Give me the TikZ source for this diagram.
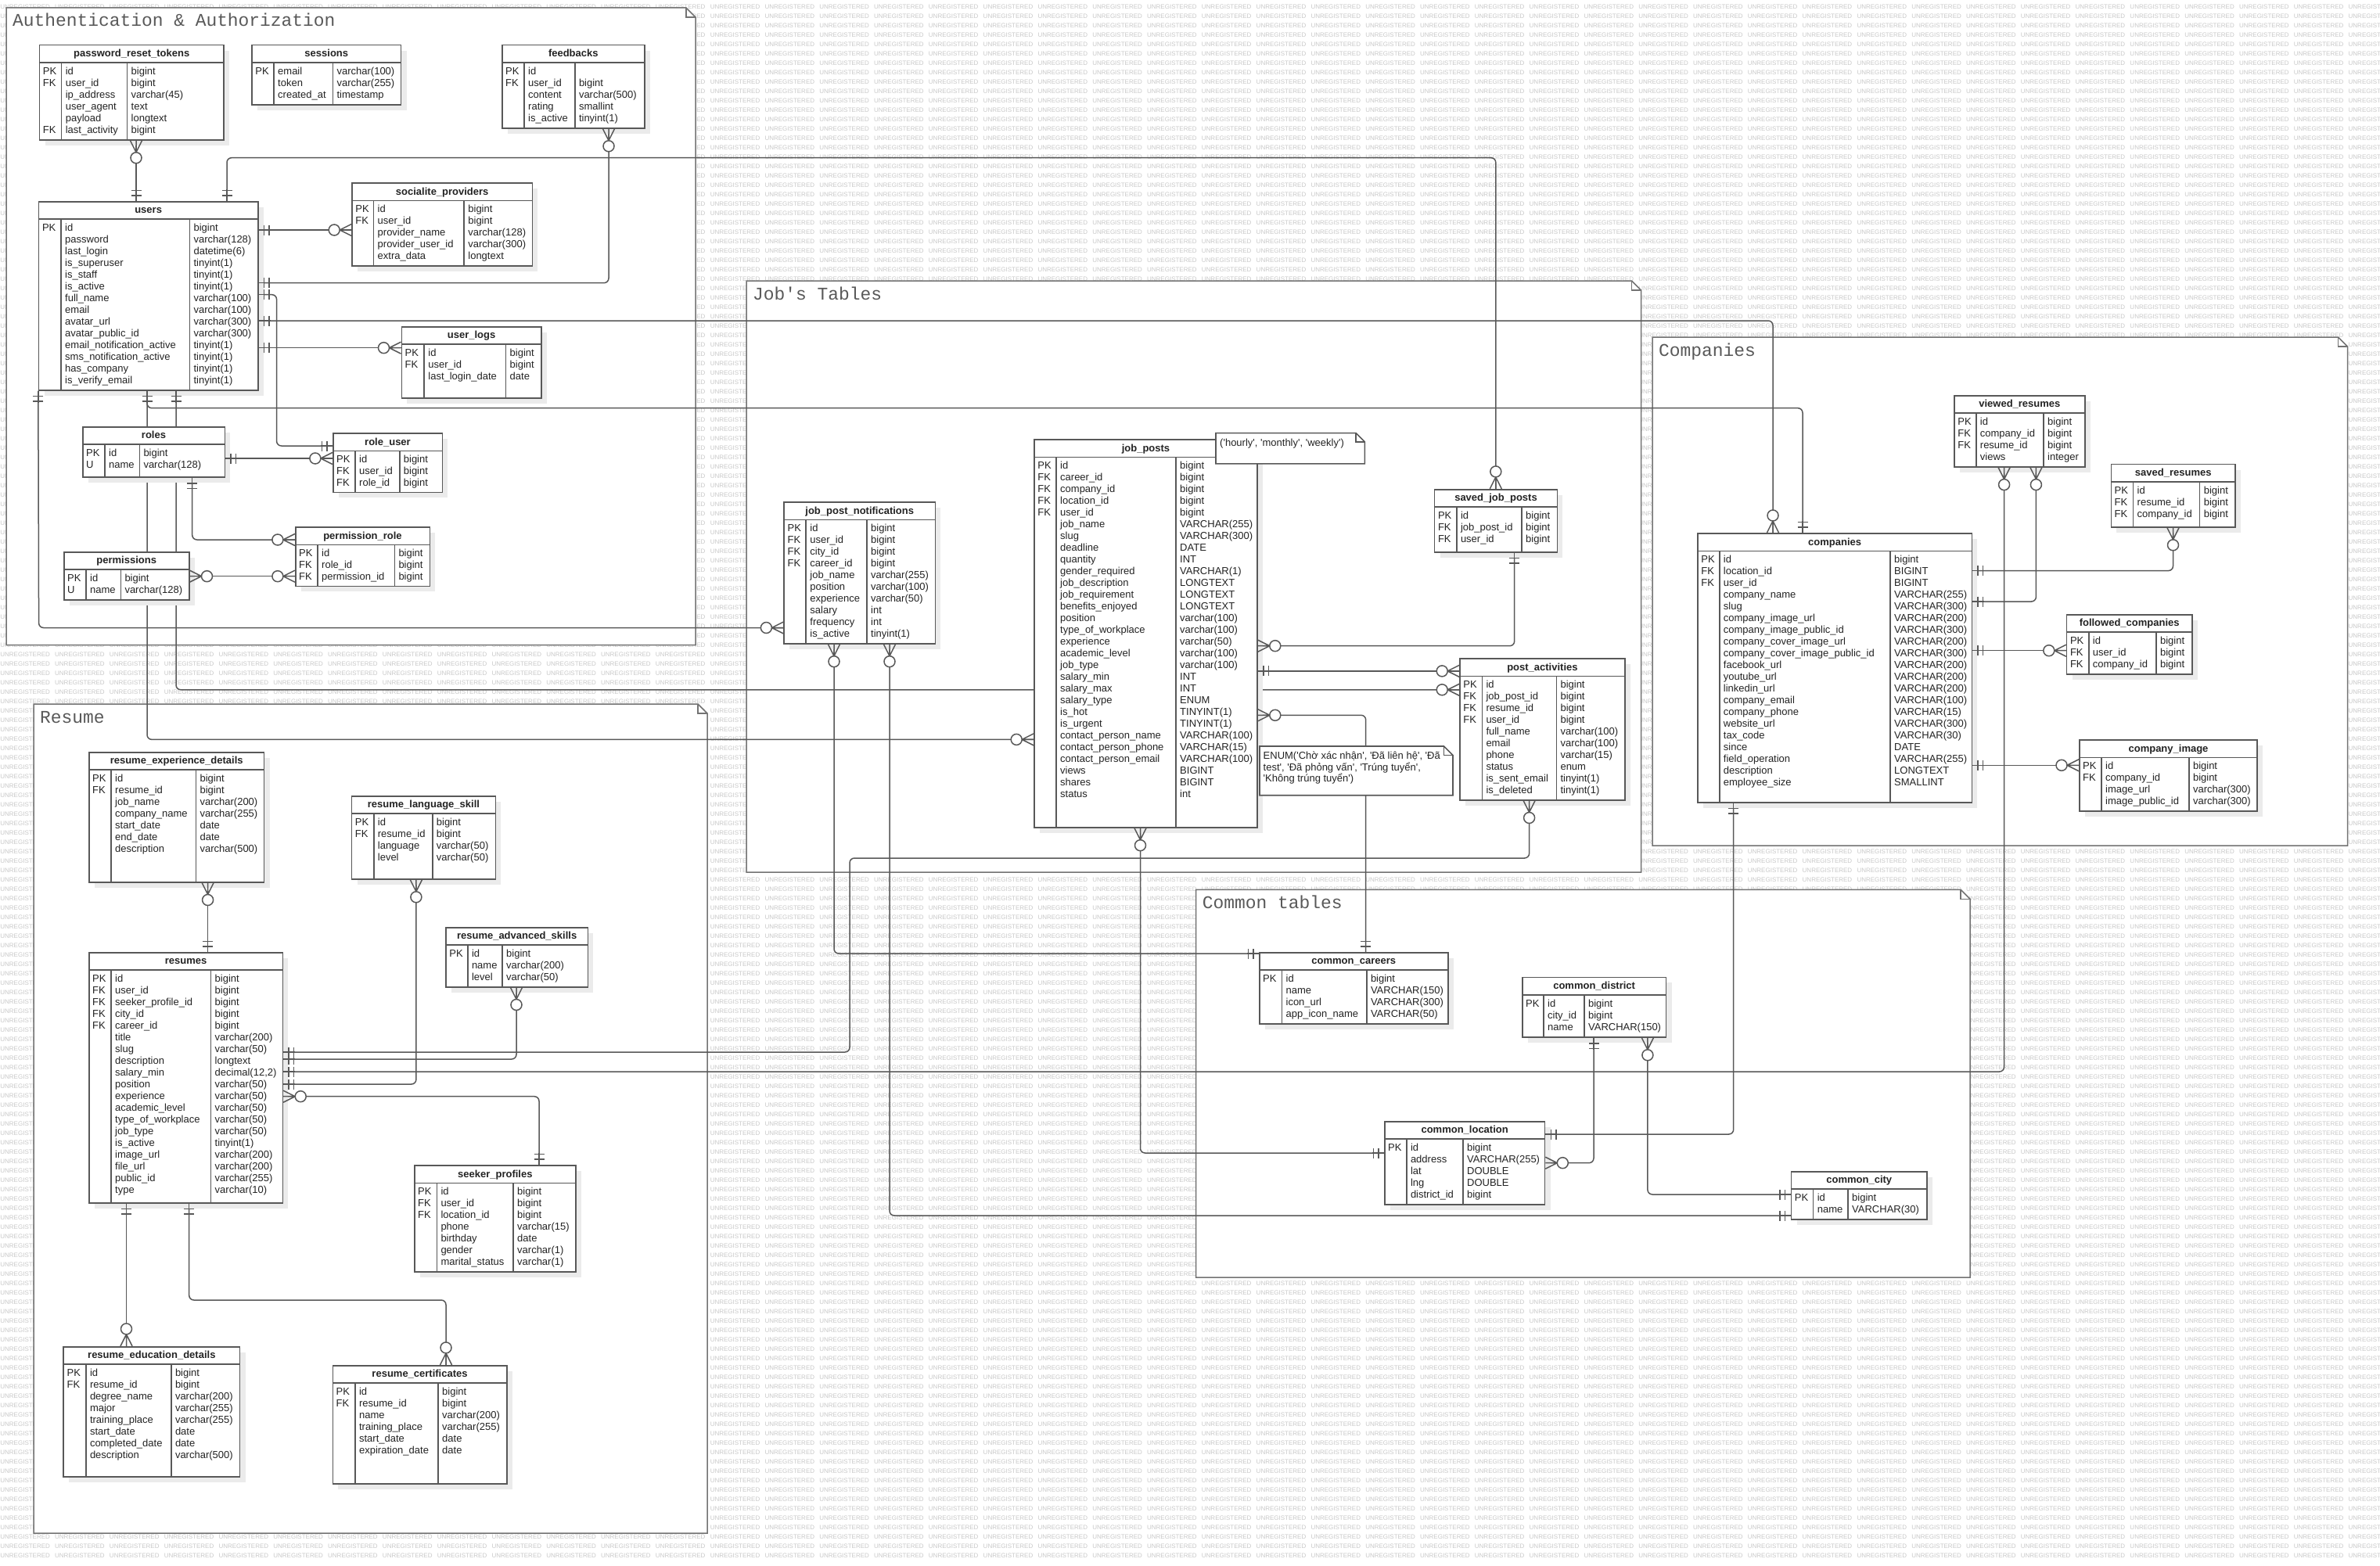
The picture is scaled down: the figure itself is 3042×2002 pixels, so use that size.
\documentclass[tikz,border=0pt]{standalone}
\usepackage{fontspec}
\setmainfont{Liberation Sans}
\newfontfamily\framefont{Liberation Mono}
\usetikzlibrary{calc,fit}
\pgfdeclarelayer{bg}
\pgfdeclarelayer{wires}
\pgfsetlayers{bg,wires,main}

\definecolor{erGray}{RGB}{88,88,88}
\definecolor{erShade}{RGB}{235,235,235}
\definecolor{erInk}{RGB}{35,35,35}
\definecolor{frameGray}{RGB}{115,115,115}
\definecolor{wmGray}{RGB}{200,200,200}

\ExplSyntaxOn
\cs_new:Npn \wmrepeat #1#2 { \prg_replicate:nn {#1} {#2} }
\ExplSyntaxOff
\newcommand\wmword{\makebox[69.8pt][l]{UNREGISTERED}}
\newcommand\q{\textquotesingle}

\tikzset{
  erbody/.style={draw=erGray, line width=1.6pt, fill=white, inner sep=0pt},
  ersep/.style={draw=erGray, line width=1.6pt},
  erconn/.style={draw=erGray, line width=1.5pt},
  ertext/.style={font=\fontsize{13}{15}\selectfont, text=erInk, align=left, inner sep=0pt},
  erhead/.style={font=\bfseries\fontsize{13}{15}\selectfont, text=erInk, inner sep=0pt},
  frameline/.style={draw=frameGray, line width=1.5pt},
  frametitle/.style={font=\framefont\fontsize{22.9}{26}\selectfont, text=black!65, inner sep=0pt},
  notetext/.style={font=\fontsize{13}{12.8}\selectfont, text=erInk, align=left, inner sep=0pt},
  wmark/.style={font=\fontsize{8}{8}\selectfont, text=wmGray, inner sep=0pt},
  erone/.pic={\draw[erconn] (0,0) -- (15,0) (7,-6.5) -- (7,6.5) (13.5,-6.5) -- (13.5,6.5);},
  ermany/.pic={\draw[erconn] (0,-7.5) -- (15,0) -- (0,7.5) (0,0) -- (15,0);
               \draw[erconn, fill=white] (22,0) circle (7pt);}
}

% table box: name, x1, y1, x2, y2, title
\newcommand\erbox[6]{%
  \fill[erShade] (#2+7,#3+7) rectangle (#4+7,#5+7);
  \node[erbody, fit={(#2,#3) (#4,#5)}] (#1) {};
  \node[erhead, anchor=base] (#1h) at ($(#1.north)+(0,16)$) {#6};
  \draw[ersep] ($(#1.north west)+(0,23.3)$) -- ($(#1.north east)+(0,23.3)$);
}
% columns: name, key divider x, type divider x, keys, fields, types
\newcommand\ercols[6]{%
  \draw[ersep] ($(#1.north -| #2,0)+(0,23.3)$) -- (#1.south -| #2,0);
  \draw[ersep] ($(#1.north -| #3,0)+(0,23.3)$) -- (#1.south -| #3,0);
  \node[ertext, anchor=north west] (#1k) at ($(#1.north west)+(5,27.8)$) {\strut #4};
  \node[ertext, anchor=north west] (#1n) at ($(#1.north -| #2,0)+(5,27.8)$) {\strut #5};
  \node[ertext, anchor=north west] (#1t) at ($(#1.north -| #3,0)+(5,27.8)$) {\strut #6};
}
% package frame: name, x1, y1, x2, y2, title
\newcommand\erframe[6]{%
  \draw[frameline, fill=white] (#2,#3) -- (#4-12,#3) -- (#4,#3+12) -- (#4,#5) -- (#2,#5) -- cycle;
  \draw[frameline] (#4-12,#3) -- (#4-12,#3+12) -- (#4,#3+12);
  \node[frametitle, anchor=base west] (#1) at (#2+8,#3+24) {#6};
}

\begin{document}
\begin{tikzpicture}[x=1pt, y=-1pt]
\useasboundingbox (0,0) rectangle (3042,2002);

\begin{pgfonlayer}{bg}
  \begin{scope}
    \clip (0,0) rectangle (3042,2002);
    \foreach \k in {0,...,165}
      \node[wmark, anchor=west] (wm\k) at (0.2,9+12*\k) {\wmrepeat{44}{\wmword}};
  \end{scope}
  \erframe{authframe}{8}{10}{889}{824.5}{Authentication \& Authorization}
  \erframe{jobframe}{954}{359}{2097.5}{1115}{Job\q s Tables}
  \erframe{compframe}{2112}{431}{3000.5}{1081}{Companies}
  \erframe{resframe}{43}{900}{904}{1960}{Resume}
  \erframe{commonframe}{1528.7}{1137.3}{2518}{1633}{Common tables}
\end{pgfonlayer}

% authentication & authorization
\erbox{prt}{50.5}{57.7}{286}{179}{password\_reset\_tokens}
\ercols{prt}{78.6}{162.5}{PK\\FK\\\strut\\\strut\\\strut\\FK}{id\\user\_id\\ip\_address\\user\_agent\\payload\\last\_activity}{bigint\\bigint\\varchar(45)\\text\\longtext\\bigint}
\erbox{sessions}{322}{57.7}{512.6}{134}{sessions}
\ercols{sessions}{350}{425.4}{PK}{email\\token\\created\_at}{varchar(100)\\varchar(255)\\timestamp}
\erbox{feedbacks}{641.8}{57.7}{823.8}{164}{feedbacks}
\ercols{feedbacks}{670}{734.8}{PK\\FK}{id\\user\_id\\content\\rating\\is\_active}{\\bigint\\varchar(500)\\smallint\\tinyint(1)}
\erbox{users}{49.6}{257.7}{329.7}{498.7}{users}
\ercols{users}{78}{242.4}{PK}{id\\password\\last\_login\\is\_superuser\\is\_staff\\is\_active\\full\_name\\email\\avatar\_url\\avatar\_public\_id\\email\_notification\_active\\sms\_notification\_active\\has\_company\\is\_verify\_email}{bigint\\varchar(128)\\datetime(6)\\tinyint(1)\\tinyint(1)\\tinyint(1)\\varchar(100)\\varchar(100)\\varchar(300)\\varchar(300)\\tinyint(1)\\tinyint(1)\\tinyint(1)\\tinyint(1)}
\erbox{socialite}{450}{234}{680.4}{340}{socialite\_providers}
\ercols{socialite}{477.5}{593.2}{PK\\FK}{id\\user\_id\\provider\_name\\provider\_user\_id\\extra\_data}{bigint\\bigint\\varchar(128)\\varchar(300)\\longtext}
\erbox{userlogs}{513.3}{417.7}{692}{509}{user\_logs}
\ercols{userlogs}{542.2}{646.5}{PK\\FK}{id\\user\_id\\last\_login\_date}{bigint\\bigint\\date}
\erbox{roles}{105.7}{545.7}{287.3}{610}{roles}
\ercols{roles}{134}{178.3}{PK\\U}{id\\name}{bigint\\varchar(128)}
\erbox{roleuser}{425.7}{554}{565.3}{629.3}{role\_user}
\ercols{roleuser}{454}{510.7}{PK\\FK\\FK}{id\\user\_id\\role\_id}{bigint\\bigint\\bigint}
\erbox{permissions}{81.7}{705.7}{241.7}{766.7}{permissions}
\ercols{permissions}{110}{154.3}{PK\\U}{id\\name}{bigint\\varchar(128)}
\erbox{permrole}{377.7}{674}{549.3}{749.3}{permission\_role}
\ercols{permrole}{406}{504.3}{PK\\FK\\FK}{id\\role\_id\\permission\_id}{bigint\\bigint\\bigint}

% job tables
\erbox{jpn}{1002.2}{641.8}{1195.3}{822.9}{job\_post\_notifications}
\ercols{jpn}{1030.2}{1108}{PK\\FK\\FK\\FK}{id\\user\_id\\city\_id\\career\_id\\job\_name\\position\\experience\\salary\\frequency\\is\_active}{bigint\\bigint\\bigint\\bigint\\varchar(255)\\varchar(100)\\varchar(50)\\int\\int\\tinyint(1)}
\erbox{jobposts}{1322}{562}{1607}{1057.9}{job\_posts}
\ercols{jobposts}{1350}{1503}{PK\\FK\\FK\\FK\\FK}{id\\career\_id\\company\_id\\location\_id\\user\_id\\job\_name\\slug\\deadline\\quantity\\gender\_required\\job\_description\\job\_requirement\\benefits\_enjoyed\\position\\type\_of\_workplace\\experience\\academic\_level\\job\_type\\salary\_min\\salary\_max\\salary\_type\\is\_hot\\is\_urgent\\contact\_person\_name\\contact\_person\_phone\\contact\_person\_email\\views\\shares\\status}{bigint\\bigint\\bigint\\bigint\\bigint\\VARCHAR(255)\\VARCHAR(300)\\DATE\\INT\\VARCHAR(1)\\LONGTEXT\\LONGTEXT\\LONGTEXT\\varchar(100)\\varchar(100)\\varchar(50)\\varchar(100)\\varchar(100)\\INT\\INT\\ENUM\\TINYINT(1)\\TINYINT(1)\\VARCHAR(100)\\VARCHAR(15)\\VARCHAR(100)\\BIGINT\\BIGINT\\int}
\erbox{sjp}{1833.6}{625.7}{1990.4}{705.7}{saved\_job\_posts}
\ercols{sjp}{1861.8}{1945}{PK\\FK\\FK}{id\\job\_post\_id\\user\_id}{bigint\\bigint\\bigint}
\erbox{postact}{1866}{842}{2076.8}{1022.7}{post\_activities}
\ercols{postact}{1894.3}{1989.3}{PK\\FK\\FK\\FK}{id\\job\_post\_id\\resume\_id\\user\_id\\full\_name\\email\\phone\\status\\is\_sent\_email\\is\_deleted}{bigint\\bigint\\bigint\\bigint\\varchar(100)\\varchar(100)\\varchar(15)\\enum\\tinyint(1)\\tinyint(1)}

% notes
\draw[ersep, fill=white] (1554,553.6) -- (1733,553.6) -- (1744.4,565) -- (1744.4,592.9) -- (1554,592.9) -- cycle;
\draw[ersep] (1733,553.6) -- (1733,565) -- (1744.4,565);
\node[notetext, anchor=north west] (hourlynote) at (1559,561) {\strut(\q hourly\q, \q monthly\q, \q weekly\q)};
\draw[ersep, fill=white] (1610,954) -- (1845.6,954) -- (1857,965.4) -- (1857,1016.7) -- (1610,1016.7) -- cycle;
\draw[ersep] (1845.6,954) -- (1845.6,965.4) -- (1857,965.4);
\node[notetext, anchor=north west] (enumnote) at (1614.5,960.5) {\strut ENUM(\q Chờ xác nhận\q, \q Đã liên hệ\q, \q Đã\\test\q, \q Đã phỏng vấn\q, \q Trúng tuyển\q,\\\q Không trúng tuyển\q)};

% companies
\erbox{companies}{2170}{681.8}{2520.3}{1025.7}{companies}
\ercols{companies}{2197.7}{2416}{PK\\FK\\FK}{id\\location\_id\\user\_id\\company\_name\\slug\\company\_image\_url\\company\_image\_public\_id\\company\_cover\_image\_url\\company\_cover\_image\_public\_id\\facebook\_url\\youtube\_url\\linkedin\_url\\company\_email\\company\_phone\\website\_url\\tax\_code\\since\\field\_operation\\description\\employee\_size}{bigint\\BIGINT\\BIGINT\\VARCHAR(255)\\VARCHAR(300)\\VARCHAR(200)\\VARCHAR(300)\\VARCHAR(200)\\VARCHAR(300)\\VARCHAR(200)\\VARCHAR(200)\\VARCHAR(200)\\VARCHAR(100)\\VARCHAR(15)\\VARCHAR(300)\\VARCHAR(30)\\DATE\\VARCHAR(255)\\LONGTEXT\\SMALLINT}
\erbox{viewed}{2498}{505.7}{2664.7}{596.8}{viewed\_resumes}
\ercols{viewed}{2525.7}{2612}{PK\\FK\\FK}{id\\company\_id\\resume\_id\\views}{bigint\\bigint\\bigint\\integer}
\erbox{savedres}{2698.3}{593.6}{2857.2}{674}{saved\_resumes}
\ercols{savedres}{2726.5}{2811.6}{PK\\FK\\FK}{id\\resume\_id\\company\_id}{bigint\\bigint\\bigint}
\erbox{followed}{2641.6}{785.7}{2801.7}{861.7}{followed\_companies}
\ercols{followed}{2669.7}{2755.9}{PK\\FK\\FK}{id\\user\_id\\company\_id}{bigint\\bigint\\bigint}
\erbox{compimage}{2657.8}{946}{2885.2}{1036.7}{company\_image}
\ercols{compimage}{2685.9}{2797.8}{PK\\FK}{id\\company\_id\\image\_url\\image\_public\_id}{bigint\\bigint\\varchar(300)\\varchar(300)}

% common tables
\erbox{careers}{1609.7}{1217.7}{1850.8}{1309}{common\_careers}
\ercols{careers}{1638.4}{1746.8}{PK}{id\\name\\icon\_url\\app\_icon\_name}{bigint\\VARCHAR(150)\\VARCHAR(300)\\VARCHAR(50)}
\erbox{district}{1945.8}{1249.3}{2129.5}{1326}{common\_district}
\ercols{district}{1973}{2024.9}{PK}{id\\city\_id\\name}{bigint\\bigint\\VARCHAR(150)}
\erbox{location}{1769.8}{1433.7}{1974.5}{1540}{common\_location}
\ercols{location}{1797.8}{1869.9}{PK}{id\\address\\lat\\lng\\district\_id}{bigint\\VARCHAR(255)\\DOUBLE\\DOUBLE\\bigint}
\erbox{city}{2289.5}{1497.7}{2463}{1559}{common\_city}
\ercols{city}{2317.6}{2362}{PK}{id\\name}{bigint\\VARCHAR(30)}

% resume
\erbox{expdetails}{113.8}{961.7}{337.6}{1127.7}{resume\_experience\_details}
\ercols{expdetails}{142}{250.4}{PK\\FK}{id\\resume\_id\\job\_name\\company\_name\\start\_date\\end\_date\\description}{bigint\\bigint\\varchar(200)\\varchar(255)\\date\\date\\varchar(500)}
\erbox{resumes}{113.8}{1217.7}{361.4}{1537.7}{resumes}
\ercols{resumes}{142}{269.5}{PK\\FK\\FK\\FK\\FK}{id\\user\_id\\seeker\_profile\_id\\city\_id\\career\_id\\title\\slug\\description\\salary\_min\\position\\experience\\academic\_level\\type\_of\_workplace\\job\_type\\is\_active\\image\_url\\file\_url\\public\_id\\type}{bigint\\bigint\\bigint\\bigint\\bigint\\varchar(200)\\varchar(50)\\longtext\\decimal(12,2)\\varchar(50)\\varchar(50)\\varchar(50)\\varchar(50)\\varchar(50)\\tinyint(1)\\varchar(200)\\varchar(200)\\varchar(255)\\varchar(10)}
\erbox{langskill}{449.5}{1017.7}{633.4}{1124}{resume\_language\_skill}
\ercols{langskill}{477.7}{552.7}{PK\\FK}{id\\resume\_id\\language\\level}{bigint\\bigint\\varchar(50)\\varchar(50)}
\erbox{advskills}{570}{1185.7}{751.3}{1261.7}{resume\_advanced\_skills}
\ercols{advskills}{597.8}{642}{PK}{id\\name\\level}{bigint\\varchar(200)\\varchar(50)}
\erbox{seeker}{529.7}{1490}{736}{1625.7}{seeker\_profiles}
\ercols{seeker}{558.3}{656}{PK\\FK\\FK}{id\\user\_id\\location\_id\\phone\\birthday\\gender\\marital\_status}{bigint\\bigint\\bigint\\varchar(15)\\date\\varchar(1)\\varchar(1)}
\erbox{education}{81.2}{1721.7}{306.5}{1887.7}{resume\_education\_details}
\ercols{education}{109.8}{218.8}{PK\\FK}{id\\resume\_id\\degree\_name\\major\\training\_place\\start\_date\\completed\_date\\description}{bigint\\bigint\\varchar(200)\\varchar(255)\\varchar(255)\\date\\date\\varchar(500)}
\erbox{certificates}{425.3}{1745.7}{647.8}{1896.7}{resume\_certificates}
\ercols{certificates}{453.9}{560}{PK\\FK}{id\\resume\_id\\name\\training\_place\\start\_date\\expiration\_date}{bigint\\bigint\\varchar(200)\\varchar(255)\\date\\date}

\begin{pgfonlayer}{wires}
  % users
  \draw[erconn] (prt.south -| 174,0) -- (users.north -| 174,0);
  \draw[erconn, rounded corners=6pt] (users.north -| 290,0) -- (290,201.7) -- (1911.8,201.7) -- (sjp.north -| 1911.8,0);
  \draw[erconn] (users.east |- 0,294) -- (socialite.west |- 0,294);
  \draw[erconn, rounded corners=6pt] (feedbacks.south -| 778,0) -- (778,361.7) -- (users.east |- 0,361.7);
  \draw[erconn, rounded corners=6pt] (users.east |- 0,376.7) -- (353.6,376.7) -- (353.6,570) -- (roleuser.west |- 0,570);
  \draw[erconn, rounded corners=6pt] (users.east |- 0,410) -- (2266,410) -- (companies.north -| 2266,0);
  \draw[erconn] (users.east |- 0,444.7) -- (userlogs.west |- 0,444.7);
  \draw[erconn, rounded corners=6pt] (users.south west) -- (49.6,802.5) -- (jpn.west |- 0,802.5);
  \draw[erconn, rounded corners=6pt] (users.south -| 188,0) -- (188,945.4) -- (jobposts.west |- 0,945.4);
  \draw[erconn, rounded corners=6pt] (users.south -| 188,0) -- (188,521.7) -- (2304,521.7) -- (companies.north -| 2304,0);
  \draw[erconn, rounded corners=6pt] (users.south -| 225,0) -- (225,881.8) -- (postact.west |- 0,881.8);
  % roles
  \draw[erconn] (roles.east |- 0,586) -- (roleuser.west |- 0,586);
  \draw[erconn, rounded corners=6pt] (roles.south -| 245.7,0) -- (245.7,690) -- (permrole.west |- 0,690);
  \draw[erconn] (permissions.east |- 0,736.7) -- (permrole.west |- 0,736.7);
  % job posts
  \draw[erconn, rounded corners=6pt] (sjp.south -| 1935.7,0) -- (1935.7,825.7) -- (jobposts.east |- 0,825.7);
  \draw[erconn] (jobposts.east |- 0,857.9) -- (postact.west |- 0,857.9);
  \draw[erconn, rounded corners=6pt] (jobposts.east |- 0,914.3) -- (1745.7,914.3) -- (careers.north -| 1745.7,0);
  \draw[erconn, rounded corners=6pt] (jobposts.south -| 1457.5,0) -- (1457.5,1474) -- (location.west |- 0,1474);
  \draw[erconn, rounded corners=6pt] (jpn.south -| 1066,0) -- (1066,1219) -- (careers.west |- 0,1219);
  \draw[erconn, rounded corners=6pt] (jpn.south -| 1137,0) -- (1137,1554) -- (city.west |- 0,1554);
  \draw[erconn, rounded corners=6pt] (postact.south -| 1954.6,0) -- (1954.6,1097) -- (1086,1097) -- (1086,1345) -- (resumes.east |- 0,1345);
  % companies
  \draw[erconn, rounded corners=6pt] (viewed.south -| 2561.6,0) -- (2561.6,1370) -- (resumes.east |- 0,1370);
  \draw[erconn, rounded corners=6pt] (viewed.south -| 2602.4,0) -- (2602.4,769) -- (companies.east |- 0,769);
  \draw[erconn, rounded corners=6pt] (savedres.south -| 2777.5,0) -- (2777.5,729.6) -- (companies.east |- 0,729.6);
  \draw[erconn] (companies.east |- 0,831.7) -- (followed.west |- 0,831.7);
  \draw[erconn] (companies.east |- 0,978.3) -- (compimage.west |- 0,978.3);
  \draw[erconn, rounded corners=6pt] (companies.south -| 2215.7,0) -- (2215.7,1450) -- (location.east |- 0,1450);
  % common
  \draw[erconn, rounded corners=6pt] (location.east |- 0,1486.7) -- (2037,1486.7) -- (district.south -| 2037,0);
  \draw[erconn, rounded corners=6pt] (district.south -| 2105.9,0) -- (2105.9,1527) -- (city.west |- 0,1527);
  % resume
  \draw[erconn] (expdetails.south -| 265.6,0) -- (resumes.north -| 265.6,0);
  \draw[erconn, rounded corners=6pt] (resumes.east |- 0,1354) -- (660,1354) -- (advskills.south -| 660,0);
  \draw[erconn, rounded corners=6pt] (resumes.east |- 0,1386) -- (531.9,1386) -- (langskill.south -| 531.9,0);
  \draw[erconn, rounded corners=6pt] (resumes.east |- 0,1401.7) -- (689,1401.7) -- (seeker.north -| 689,0);
  \draw[erconn] (resumes.south -| 161.5,0) -- (education.north -| 161.5,0);
  \draw[erconn, rounded corners=6pt] (resumes.south -| 241.7,0) -- (241.7,1662) -- (570,1662) -- (certificates.north -| 570,0);
\end{pgfonlayer}

% ends
\pic[rotate=-90] at (prt.south -| 174,0) {ermany};
\pic[rotate=90] at (users.north -| 174,0) {erone};
\pic[rotate=90] at (users.north -| 290,0) {erone};
\pic[rotate=90] at (sjp.north -| 1911.8,0) {ermany};
\pic at (users.east |- 0,294) {erone};
\pic[rotate=180] at (socialite.west |- 0,294) {ermany};
\pic[rotate=-90] at (feedbacks.south -| 778,0) {ermany};
\pic at (users.east |- 0,361.7) {erone};
\pic at (users.east |- 0,376.7) {erone};
\pic[rotate=180] at (roleuser.west |- 0,570) {erone};
\pic at (users.east |- 0,410) {erone};
\pic[rotate=90] at (companies.north -| 2266,0) {ermany};
\pic at (users.east |- 0,444.7) {erone};
\pic[rotate=180] at (userlogs.west |- 0,444.7) {ermany};
\pic[rotate=-90] at (users.south west) {erone};
\pic[rotate=180] at (jpn.west |- 0,802.5) {ermany};
\pic[rotate=-90] at (users.south -| 188,0) {erone};
\pic[rotate=180] at (jobposts.west |- 0,945.4) {ermany};
\pic[rotate=90] at (companies.north -| 2304,0) {erone};
\pic[rotate=-90] at (users.south -| 225,0) {erone};
\pic[rotate=180] at (postact.west |- 0,881.8) {ermany};
\pic at (roles.east |- 0,586) {erone};
\pic[rotate=180] at (roleuser.west |- 0,586) {ermany};
\pic[rotate=-90] at (roles.south -| 245.7,0) {erone};
\pic[rotate=180] at (permrole.west |- 0,690) {ermany};
\pic at (permissions.east |- 0,736.7) {ermany};
\pic[rotate=180] at (permrole.west |- 0,736.7) {ermany};
\pic[rotate=-90] at (sjp.south -| 1935.7,0) {erone};
\pic at (jobposts.east |- 0,825.7) {ermany};
\pic at (jobposts.east |- 0,857.9) {erone};
\pic[rotate=180] at (postact.west |- 0,857.9) {ermany};
\pic at (jobposts.east |- 0,914.3) {ermany};
\pic[rotate=90] at (careers.north -| 1745.7,0) {erone};
\pic[rotate=-90] at (jobposts.south -| 1457.5,0) {ermany};
\pic[rotate=180] at (location.west |- 0,1474) {erone};
\pic[rotate=-90] at (jpn.south -| 1066,0) {ermany};
\pic[rotate=180] at (careers.west |- 0,1219) {erone};
\pic[rotate=-90] at (jpn.south -| 1137,0) {ermany};
\pic[rotate=180] at (city.west |- 0,1554) {erone};
\pic[rotate=-90] at (postact.south -| 1954.6,0) {ermany};
\pic at (resumes.east |- 0,1345) {erone};
\pic[rotate=-90] at (viewed.south -| 2561.6,0) {ermany};
\pic at (resumes.east |- 0,1370) {erone};
\pic[rotate=-90] at (viewed.south -| 2602.4,0) {ermany};
\pic at (companies.east |- 0,769) {erone};
\pic[rotate=-90] at (savedres.south -| 2777.5,0) {ermany};
\pic at (companies.east |- 0,729.6) {erone};
\pic at (companies.east |- 0,831.7) {erone};
\pic[rotate=180] at (followed.west |- 0,831.7) {ermany};
\pic at (companies.east |- 0,978.3) {erone};
\pic[rotate=180] at (compimage.west |- 0,978.3) {ermany};
\pic[rotate=-90] at (companies.south -| 2215.7,0) {erone};
\pic at (location.east |- 0,1450) {erone};
\pic at (location.east |- 0,1486.7) {ermany};
\pic[rotate=-90] at (district.south -| 2037,0) {erone};
\pic[rotate=-90] at (district.south -| 2105.9,0) {ermany};
\pic[rotate=180] at (city.west |- 0,1527) {erone};
\pic[rotate=-90] at (expdetails.south -| 265.6,0) {ermany};
\pic[rotate=90] at (resumes.north -| 265.6,0) {erone};
\pic at (resumes.east |- 0,1354) {erone};
\pic[rotate=-90] at (advskills.south -| 660,0) {ermany};
\pic at (resumes.east |- 0,1386) {erone};
\pic[rotate=-90] at (langskill.south -| 531.9,0) {ermany};
\pic at (resumes.east |- 0,1401.7) {ermany};
\pic[rotate=90] at (seeker.north -| 689,0) {erone};
\pic[rotate=-90] at (resumes.south -| 161.5,0) {erone};
\pic[rotate=90] at (education.north -| 161.5,0) {ermany};
\pic[rotate=-90] at (resumes.south -| 241.7,0) {erone};
\pic[rotate=90] at (certificates.north -| 570,0) {ermany};
\end{tikzpicture}
\end{document}
